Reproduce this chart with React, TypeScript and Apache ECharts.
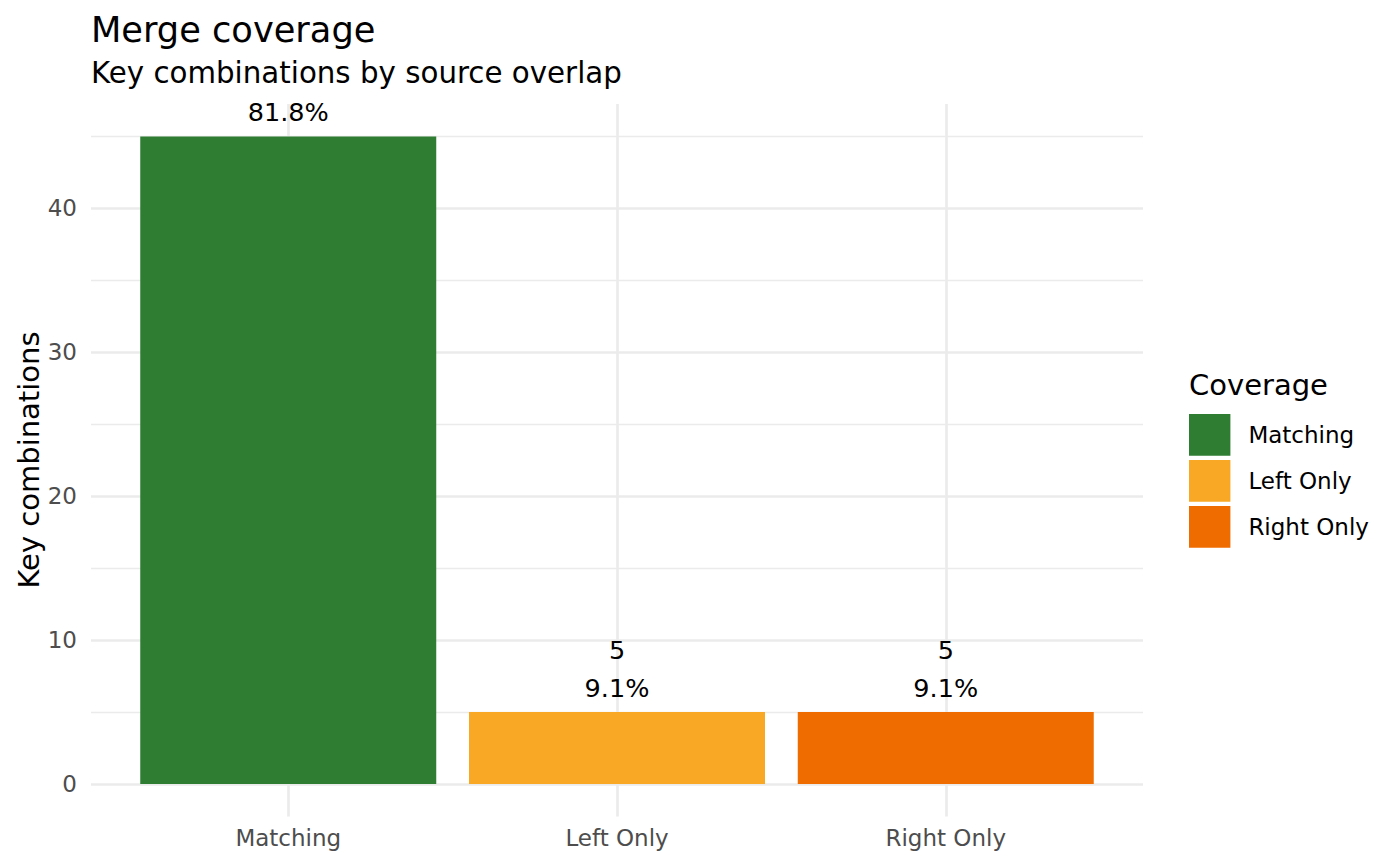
import React, { useEffect, useRef } from "react";
import * as echarts from "echarts";

const categories = ["Matching", "Left Only", "Right Only"];
const counts = [45, 5, 5];
const percentLabels = ["81.8%", "9.1%", "9.1%"];
const barColors = ["#2E7D32", "#F9A825", "#EF6C00"];
const yMajorTicks = [0, 10, 20, 30, 40];
const yMinorTicks = [5, 15, 25, 35, 45];
const yRange = [-2.25, 47.25];
const xRange = [0.4, 3.6];

const FONT = "DejaVu Sans";
const GRID = { left: 91, right: 257, top: 104, bottom: 49.6 };
const LINE_H = 38;
const GRID_COLOR = "#EBEBEB";

export default function App() {
  const ref = useRef<HTMLDivElement>(null);

  useEffect(() => {
    if (!ref.current) return;
    const chart = echarts.init(ref.current, undefined, { renderer: "svg" });
    const plotH = 866 - GRID.top - GRID.bottom;
    const pxPerUnit = plotH / (yRange[1] - yRange[0]);

    const xPositions = categories.map((_, i) => i + 1);

    const gridLines = [
      ...yMinorTicks.map((v) => ({ yAxis: v, lineStyle: { width: 1.4, color: GRID_COLOR, type: "solid" } })),
      ...yMajorTicks.map((v) => ({ yAxis: v, lineStyle: { width: 2.7, color: GRID_COLOR, type: "solid" } })),
      ...xPositions.map((v) => ({ xAxis: v, lineStyle: { width: 2.7, color: GRID_COLOR, type: "solid" } })),
    ];

    const series = categories.map((cat, i) => {
      // count line sits two label lines above the bar top; ggplot clips it when outside the panel
      const countCenter = counts[i] + (LINE_H * 1.5 + 5) / pxPerUnit;
      const showCount = countCenter + 8 / pxPerUnit < yRange[1];
      const text = showCount ? `${counts[i]}\n${percentLabels[i]}` : percentLabels[i];
      return {
        type: "bar",
        name: cat,
        data: [[xPositions[i], counts[i]]],
        barWidth: 296,
        barGap: "-100%",
        z: 2,
        itemStyle: { color: barColors[i] },
        emphasis: { disabled: true },
        label: {
          show: true,
          position: "top",
          distance: 5,
          formatter: () => text,
          fontFamily: FONT,
          fontSize: 25.5,
          lineHeight: LINE_H,
          color: "#000000",
        },
        markLine:
          i === 0
            ? {
                silent: true,
                z: 1,
                symbol: ["none", "none"],
                label: { show: false },
                emphasis: { disabled: true },
                data: gridLines,
              }
            : undefined,
      };
    });

    const option = {
      animation: false,
      backgroundColor: "#FFFFFF",
      grid: { ...GRID, containLabel: false },
      xAxis: {
        type: "value",
        min: xRange[0],
        max: xRange[1],
        axisLine: { show: false },
        axisTick: { show: false },
        splitLine: { show: false },
        axisLabel: {
          customValues: xPositions,
          formatter: (v: number) => categories[Math.round(v) - 1] ?? "",
          fontFamily: FONT,
          fontSize: 23,
          color: "#4D4D4D",
          margin: 22,
          verticalAlign: "middle",
        },
      },
      yAxis: {
        type: "value",
        min: yRange[0],
        max: yRange[1],
        axisLine: { show: false },
        axisTick: { show: false },
        splitLine: { show: false },
        axisLabel: {
          customValues: yMajorTicks,
          fontFamily: FONT,
          fontSize: 23,
          color: "#4D4D4D",
          margin: 14,
        },
      },
      legend: {
        orient: "vertical",
        left: 1189,
        top: 414,
        padding: 0,
        itemWidth: 41.4,
        itemHeight: 41.7,
        itemGap: 4.3,
        icon: "rect",
        selectedMode: false,
        data: categories,
        textStyle: {
          fontFamily: FONT,
          fontSize: 23,
          color: "#000000",
          padding: [0, 0, 0, 13],
        },
      },
      graphic: [
        {
          type: "text",
          x: 91,
          y: 29.6,
          style: {
            text: "Merge coverage",
            fontFamily: FONT,
            fontSize: 35.2,
            fill: "#000000",
            align: "left",
            verticalAlign: "middle",
          },
        },
        {
          type: "text",
          x: 91,
          y: 73.2,
          style: {
            text: "Key combinations by source overlap",
            fontFamily: FONT,
            fontSize: 29.3,
            fill: "#000000",
            align: "left",
            verticalAlign: "middle",
          },
        },
        {
          type: "text",
          x: 28.5,
          y: 460,
          rotation: Math.PI / 2,
          style: {
            text: "Key combinations",
            fontFamily: FONT,
            fontSize: 29,
            fill: "#000000",
            align: "center",
            verticalAlign: "middle",
          },
        },
        {
          type: "text",
          x: 1189,
          y: 385,
          style: {
            text: "Coverage",
            fontFamily: FONT,
            fontSize: 29,
            fill: "#000000",
            align: "left",
            verticalAlign: "middle",
          },
        },
      ],
      series,
    };

    chart.setOption(option as any);
    return () => chart.dispose();
  }, []);

  return (
    <div
      ref={ref}
      style={{ position: "absolute", left: 0, top: 0, width: 1400, height: 866 }}
    />
  );
}
